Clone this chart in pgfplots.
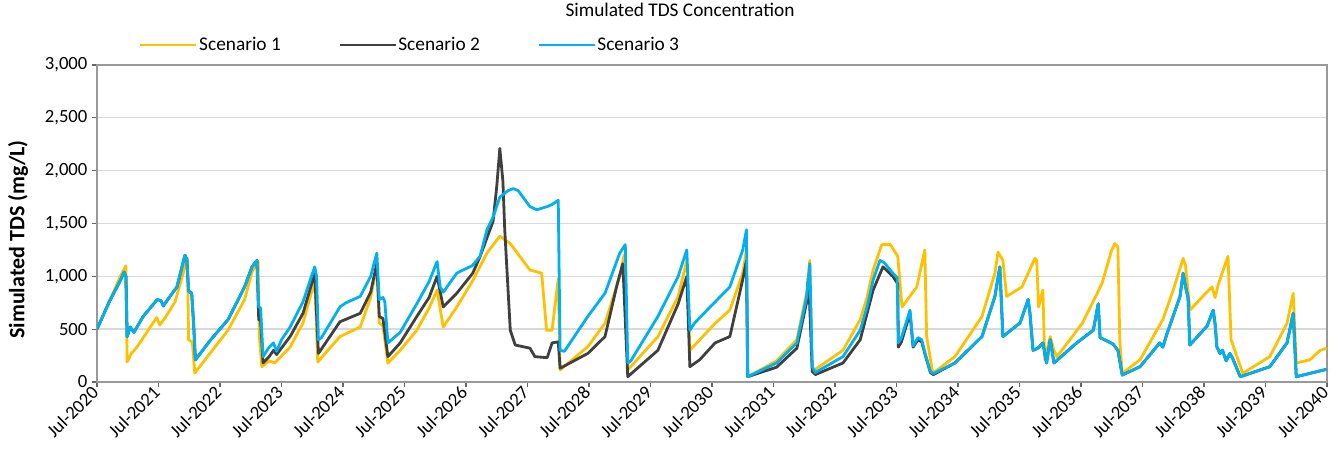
\documentclass[border=0pt]{standalone}
\usepackage{pgfplots}
\pgfplotsset{compat=1.18}
\usepackage{fontspec}
\setmainfont{Carlito}
\definecolor{sA}{HTML}{FFC000}
\definecolor{sB}{HTML}{404040}
\definecolor{sC}{HTML}{00B0F0}
\begin{document}
\begin{tikzpicture}
\begin{axis}[
  at={(0pt,0pt)}, anchor=south west,
  scale only axis, width=922.5pt, height=237.75pt,
  xmin=0, xmax=20, ymin=0, ymax=3000,
  xtick={0,...,20},
  xticklabels={Jul-2020,Jul-2021,Jul-2022,Jul-2023,Jul-2024,Jul-2025,Jul-2026,Jul-2027,Jul-2028,Jul-2029,Jul-2030,Jul-2031,Jul-2032,Jul-2033,Jul-2034,Jul-2035,Jul-2036,Jul-2037,Jul-2038,Jul-2039,Jul-2040},
  ytick={0,500,...,3000},
  /pgf/number format/assume math mode=true,
  /pgf/number format/1000 sep={,},
  scaled y ticks=false,
  tick align=outside, xtick pos=bottom, ytick pos=left,
  major tick length=4pt,
  tick style={color=gray!80!black, line width=0.8pt},
  axis line style={color=gray!80, line width=1pt},
  ymajorgrids, grid style={color=gray!30, line width=1pt},
  ticklabel style={font=\fontsize{14}{16}\selectfont, color=black},
  xticklabel style={rotate=45, anchor=east, inner sep=2pt},
  yticklabel style={inner sep=3pt},
  title={Simulated TDS Concentration},
  title style={at={(axis description cs:0.474,1.148)}, anchor=center, font=\fontsize{14.5}{16}\selectfont},
  ylabel={Simulated TDS (mg/L)},
  ylabel style={at={(axis description cs:-0.0642,0.45)}, anchor=center, font=\bfseries\fontsize{16.5}{18}\selectfont},
  legend columns=3,
  legend style={at={(axis description cs:0.034,1.063)}, anchor=west, draw=none, fill=none, inner sep=0pt,
    font=\fontsize{14.5}{16}\selectfont,
    /tikz/every odd column/.append style={column sep=0pt},
    /tikz/every even column/.append style={column sep=42pt},
    nodes={inner sep=1pt}},
  legend image code/.code={\draw[#1] (0pt,0pt) -- (42pt,0pt);},
]
\addplot[sA, line width=2.1pt, line join=round] coordinates {
(0,500) (0.2,760) (0.38,1000) (0.47,1100) (0.49,190) (0.56,270) (0.65,330) (0.97,610) (1.02,540) (1.1,600) (1.27,760) (1.47,1170) (1.49,400) (1.55,380) (1.59,85)
(1.85,280) (2.13,490) (2.4,780) (2.52,1040) (2.62,1140) (2.64,430) (2.68,145) (2.8,200) (2.89,180) (3.14,330) (3.35,560) (3.54,960) (3.59,190)
(3.95,430) (4.28,520) (4.45,800) (4.55,1100) (4.59,560) (4.65,530) (4.73,178) (4.93,300) (5.2,490) (5.4,700) (5.53,870) (5.63,520) (5.85,710)
(6.11,960) (6.34,1220) (6.55,1380) (6.72,1310) (7.04,1060) (7.23,1030) (7.31,490) (7.4,490) (7.5,980) (7.53,114) (7.98,334) (8.26,555) (8.5,1000)
(8.57,1200) (8.63,114) (9.12,429) (9.45,810) (9.59,1150) (9.64,300) (10.05,555) (10.29,680) (10.5,1030) (10.56,1250) (10.58,50) (11.05,200)
(11.38,400) (11.54,850) (11.59,1150) (11.63,100) (12.13,300) (12.41,590) (12.52,800) (12.62,1060) (12.76,1300) (12.9,1300) (13.02,1190) (13.09,710)
(13.33,900) (13.46,1250) (13.49,430) (13.59,82) (13.95,240) (14.39,620) (14.6,1030) (14.65,1230) (14.73,1150) (14.79,810) (15.04,900) (15.25,1170)
(15.28,1150) (15.31,710) (15.38,870) (15.41,210) (15.5,430) (15.56,300) (15.61,240) (16.02,555) (16.34,930) (16.5,1250) (16.55,1310) (16.6,1280)
(16.63,400) (16.67,82) (16.96,210) (17.33,590) (17.5,870) (17.66,1170) (17.7,1100) (17.77,680) (17.98,810) (18.13,900) (18.18,800) (18.23,920)
(18.39,1190) (18.44,400) (18.5,300) (18.63,82) (19.07,240) (19.35,555) (19.45,840) (19.5,180) (19.72,210) (19.89,300) (20,320)
};
\addlegendentry{Scenario 1}
\addplot[sB, line width=2.1pt, line join=round] coordinates {
(0,500) (0.2,760) (0.38,960) (0.44,1040) (0.47,1000) (0.49,430) (0.54,520) (0.6,470) (0.75,620) (0.98,780) (1.04,770) (1.08,720) (1.15,780) (1.3,900)
(1.43,1200) (1.46,1160) (1.49,860) (1.54,840) (1.57,560) (1.6,210) (1.85,400) (2.13,590) (2.4,900) (2.52,1090) (2.6,1150)
(2.63,590) (2.66,580) (2.7,180) (2.8,240) (2.87,300) (2.92,260) (3.14,430) (3.35,650) (3.54,1030) (3.6,270) (3.95,570) (4.28,650) (4.45,850)
(4.55,1120) (4.59,620) (4.65,600) (4.73,240) (4.93,370) (5.2,620) (5.4,800) (5.53,1000) (5.63,710) (5.85,840) (6.11,1030) (6.23,1190) (6.44,1520)
(6.5,1850) (6.55,2210) (6.6,1900) (6.63,1440) (6.72,490) (6.8,350) (7.04,320) (7.12,240) (7.32,230) (7.4,370) (7.5,380) (7.53,130) (7.98,270)
(8.26,430) (8.46,930) (8.55,1120) (8.63,50) (9.12,300) (9.45,740) (9.59,1000) (9.64,145) (9.8,210) (10.05,370) (10.29,430) (10.5,970) (10.56,1150)
(10.58,50) (11.05,140) (11.38,320) (11.54,760) (11.57,1000) (11.63,100) (11.68,70) (12.13,180) (12.41,400) (12.62,870) (12.78,1090) (12.94,1000)
(13.02,930) (13.03,330) (13.08,380) (13.22,650) (13.27,330) (13.35,400) (13.41,380) (13.47,250) (13.55,90) (13.6,70)
(13.95,180) (14.39,430) (14.6,810) (14.68,1090) (14.73,430) (15.01,560) (15.14,780) (15.17,650) (15.22,300) (15.3,320) (15.38,370) (15.44,180)
(15.5,400) (15.56,180) (15.93,370) (16.2,490) (16.28,740) (16.31,420) (16.45,380) (16.52,360) (16.6,300) (16.67,66) (16.96,145) (17.28,370)
(17.33,330) (17.4,460) (17.61,810) (17.66,1030) (17.7,900) (17.74,800) (17.77,350) (18.05,530) (18.15,680) (18.18,550) (18.21,330) (18.26,270)
(18.3,300) (18.36,200) (18.42,270) (18.46,230) (18.59,50) (19.07,145) (19.35,370) (19.45,650) (19.5,50) (19.95,114) (20,120)
};
\addlegendentry{Scenario 2}
\addplot[sC, line width=2.1pt, line join=round] coordinates {
(0,500) (0.2,760) (0.38,960) (0.44,1040) (0.47,1000) (0.49,430) (0.54,520) (0.6,470) (0.75,620) (0.98,780) (1.04,770) (1.08,720) (1.15,780) (1.3,900)
(1.43,1200) (1.46,1160) (1.49,860) (1.54,840) (1.57,560) (1.6,210) (1.85,400) (2.13,590) (2.4,900) (2.52,1090) (2.6,1150) (2.63,710) (2.66,700)
(2.7,240) (2.8,330) (2.87,370) (2.92,290) (3.0,400) (3.14,520) (3.35,760) (3.54,1090) (3.57,1000) (3.6,400) (3.65,420) (3.95,710) (4.05,750)
(4.28,810) (4.45,1000) (4.55,1220) (4.59,780) (4.65,800) (4.68,760) (4.73,370) (4.93,470) (5.2,740) (5.4,950) (5.53,1140) (5.58,900) (5.63,850)
(5.85,1030) (5.95,1060) (6.1,1100) (6.23,1190) (6.34,1440) (6.44,1560) (6.55,1750) (6.68,1810) (6.77,1830) (6.85,1810) (7.04,1660) (7.15,1630)
(7.32,1660) (7.4,1680) (7.5,1720) (7.53,300) (7.6,290) (7.98,620) (8.26,840) (8.5,1220) (8.59,1300) (8.63,180) (8.68,200) (9.12,620) (9.45,1000)
(9.59,1250) (9.64,490) (9.72,560) (9.97,710) (10.29,900) (10.5,1250) (10.56,1440) (10.58,50) (11.05,180) (11.38,370) (11.54,810) (11.59,1120)
(11.63,145) (11.68,90) (12.13,240) (12.41,490) (12.52,710) (12.62,965) (12.73,1150) (12.8,1130) (12.94,1030) (13.01,990) (13.03,370) (13.08,420)
(13.22,680) (13.27,340) (13.35,420) (13.41,400) (13.47,260) (13.55,100) (13.6,80)
(13.95,180) (14.39,430) (14.6,810) (14.68,1090) (14.73,430) (15.01,560) (15.14,780) (15.17,650) (15.22,300) (15.3,320) (15.38,370) (15.44,180)
(15.5,400) (15.56,180) (15.93,370) (16.2,490) (16.28,740) (16.31,420) (16.45,380) (16.52,360) (16.6,300) (16.67,66) (16.96,145) (17.28,370)
(17.33,330) (17.4,460) (17.61,810) (17.66,1030) (17.7,900) (17.74,800) (17.77,350) (18.05,530) (18.15,680) (18.18,550) (18.21,330) (18.26,270)
(18.3,300) (18.36,200) (18.42,270) (18.46,230) (18.59,50) (19.07,145) (19.35,370) (19.45,650) (19.5,50) (19.95,114) (20,120)
};
\addlegendentry{Scenario 3}
\end{axis}
\pgfresetboundingbox
\path[use as bounding box] (-72.75pt,-57.75pt) rectangle (930pt,286.5pt);
\end{tikzpicture}
\end{document}
